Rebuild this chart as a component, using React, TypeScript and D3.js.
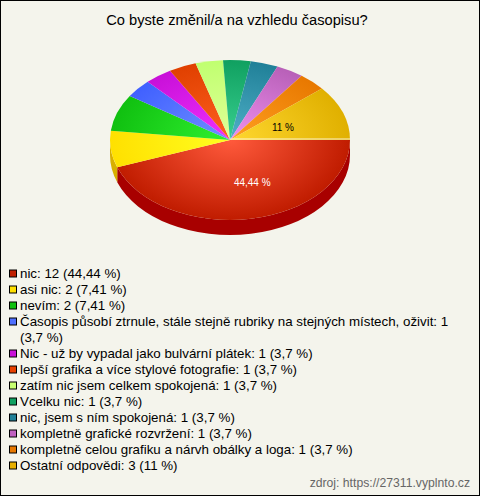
import React from "react";
import * as d3 from "d3";

const title = "Co byste změnil/a na vzhledu časopisu?";
const source = "zdroj: https://27311.vyplnto.cz";
const categories = [
  "nic", "asi nic", "nevím",
  "Časopis působí ztrnule, stále stejně rubriky na stejných místech, oživit",
  "Nic - už by vypadal jako bulvární plátek",
  "lepší grafika a více stylové fotografie",
  "zatím nic jsem celkem spokojená", "Vcelku nic", "nic, jsem s ním spokojená",
  "kompletně grafické rozvržení", "kompletně celou grafiku a nárvh obálky a loga",
  "Ostatní odpovědi",
];
const values = [12, 2, 2, 1, 1, 1, 1, 1, 1, 1, 1, 3];
const percents = ["44,44", "7,41", "7,41", "3,7", "3,7", "3,7", "3,7", "3,7", "3,7", "3,7", "3,7", "11"];
const swatch = ["#c02000", "#ffe000", "#10c010", "#4f70ff", "#c810d8", "#e84000", "#c8ff70", "#10a060", "#208098", "#c060c0", "#e87800", "#e8b000"];
const lights = ["#ff5a3c", "#ffff20", "#30f030", "#7090ff", "#f030ff", "#ff6020", "#e0ff98", "#38d090", "#50b0c8", "#f090f0", "#ffa020", "#ffd830"];
const darks = ["#c01c00", "#ffe000", "#10c010", "#4060ff", "#c810d8", "#e04000", "#c0ff70", "#10a060", "#208098", "#b860b8", "#e87800", "#e0b000"];
const sideColors = ["#a80000", "#d8b000"];

const CX = 230, CY = 140, RX = 120, RY = 80, DEPTH = 15;

export default function App() {
  const total = d3.sum(values);
  const pie = d3.pie<number>().sort(null).startAngle(Math.PI / 2).endAngle(Math.PI / 2 + 2 * Math.PI);
  const arcs = pie(values);
  const arc = d3.arc<d3.PieArcDatum<number>>().innerRadius(0).outerRadius(RX);
  const yScale = RY / RX;
  const scr = (a: number) => a - Math.PI / 2;
  const px = (a: number) => CX + RX * Math.cos(a);
  const py = (a: number) => CY + RY * Math.sin(a);

  const sides = arcs.map((d, i) => {
    const a0 = scr(d.startAngle), a1 = Math.min(scr(d.endAngle), Math.PI);
    if (a0 >= Math.PI) return null;
    const p = `M${px(a0)},${py(a0)}A${RX},${RY} 0 0 1 ${px(a1)},${py(a1)}L${px(a1)},${py(a1) + DEPTH}A${RX},${RY} 0 0 0 ${px(a0)},${py(a0) + DEPTH}Z`;
    return <path key={i} d={p} fill={sideColors[i]} />;
  });

  const rows: { t: string; sq: boolean }[] = [];
  categories.forEach((c, i) => {
    const line = `${c}: ${values[i]} (${percents[i]} %)`;
    if (i === 3) {
      rows.push({ t: `${c}: ${values[i]}`, sq: true });
      rows.push({ t: `(${percents[i]} %)`, sq: false });
    } else rows.push({ t: line, sq: true });
  });
  let sqIdx = -1;
  const labelIdx = arcs.map((d, i) => ({ d, i })).filter((o) => o.d.value / total > 0.1);

  return (
    <>
      <style>{`html,body{margin:0;padding:0;background:#f4f4ec}`}</style>
      <svg width={480} height={496} style={{ display: "block", fontFamily: "'Liberation Sans',Arial,sans-serif" }}>
        <defs>
          {arcs.map((_, i) => (
            <radialGradient key={i} id={`g${i}`} gradientUnits="userSpaceOnUse" cx={0} cy={0} r={RX}>
              <stop offset="0" stopColor={lights[i]} />
              <stop offset="1" stopColor={darks[i]} />
            </radialGradient>
          ))}
        </defs>
        <rect x={0.5} y={0.5} width={479} height={495} fill="#f4f4ec" stroke="#000" />
        <text x={237} y={25} textAnchor="middle" fontSize={14.67} fill="#000">{title}</text>
        {sides}
        <g transform={`translate(${CX},${CY}) scale(1,${yScale})`}>
          {arcs.map((d, i) => (
            <path key={i} d={arc(d) || ""} fill={`url(#g${i})`} />
          ))}
        </g>
        <line x1={CX} x2={CX + RX} y1={CY - 1} y2={CY - 1} stroke="#fff" strokeOpacity={0.8} />
        {labelIdx.map(({ d, i }) => {
          const a = scr((d.startAngle + d.endAngle) / 2);
          const big = d.value / total > 0.4;
          const k = big ? 0.54 : 0.47;
          const x = CX + k * RX * Math.cos(a) + (big ? 11 : 0);
          const y = CY + k * RY * Math.sin(a);
          return (
            <text key={i} x={x} y={y + 3.5} textAnchor="middle" fontSize={10} fill={big ? "#fff" : "#000"}>
              {percents[i]} %
            </text>
          );
        })}
        {rows.map((r, i) => {
          const y = 273.5 + i * 16;
          if (r.sq) sqIdx++;
          return (
            <g key={i}>
              {r.sq && <rect x={9.5} y={y - 3.5} width={7} height={7} fill={swatch[sqIdx]} stroke="#000" />}
              <text x={20} y={y + 4.5} fontSize={13.33} fill="#000">{r.t}</text>
            </g>
          );
        })}
        <text x={470} y={487} textAnchor="end" fontSize={12.2} fill="#666">{source}</text>
      </svg>
    </>
  );
}
